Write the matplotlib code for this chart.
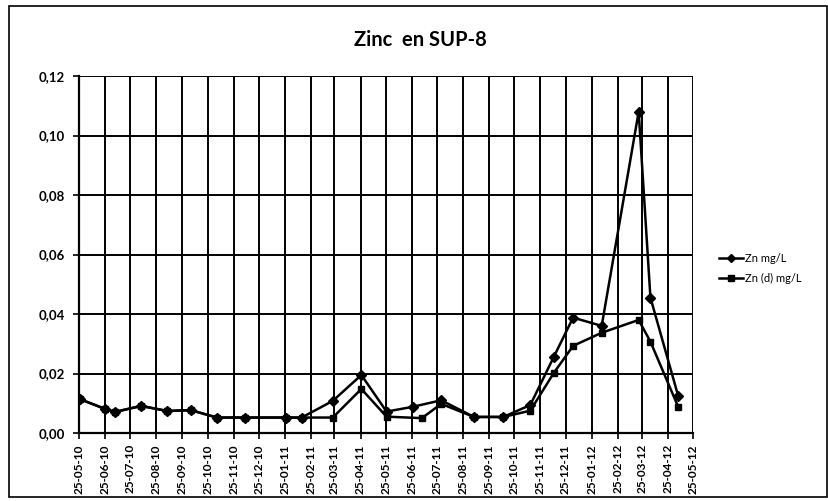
import matplotlib
matplotlib.use('Agg')
import matplotlib.pyplot as plt
import matplotlib.dates as mdates
from matplotlib.patches import Rectangle
from matplotlib.ticker import FuncFormatter, MultipleLocator
import pandas as pd

plt.rcParams['font.family'] = ['Lato', 'DejaVu Sans']

# Zn mg/L (total)
zn_dates = ['2010-05-26', '2010-06-25', '2010-07-07', '2010-08-07', '2010-09-07',
            '2010-10-05', '2010-11-05', '2010-12-08', '2011-01-26', '2011-02-14',
            '2011-03-23', '2011-04-26', '2011-05-26', '2011-06-26', '2011-07-30',
            '2011-09-07', '2011-10-12', '2011-11-13', '2011-12-11', '2012-01-03',
            '2012-02-06', '2012-03-21', '2012-04-04', '2012-05-07']
zn_vals = [0.0114, 0.0081, 0.0071, 0.0091, 0.0074,
           0.0077, 0.0052, 0.0052, 0.0052, 0.0052,
           0.0108, 0.0195, 0.0072, 0.0088, 0.0110,
           0.0054, 0.0054, 0.0094, 0.0256, 0.0388,
           0.0360, 0.1080, 0.0455, 0.0125]

# Zn (d) mg/L (dissous)
znd_dates = ['2010-05-26', '2010-06-25', '2010-07-07', '2010-08-07', '2010-09-07',
             '2010-10-05', '2010-11-05', '2010-12-08', '2011-01-26', '2011-02-14',
             '2011-03-23', '2011-04-26', '2011-05-26', '2011-07-07', '2011-07-30',
             '2011-09-07', '2011-10-12', '2011-11-13', '2011-12-11', '2012-01-03',
             '2012-02-06', '2012-03-21', '2012-04-04', '2012-05-07']
znd_vals = [0.0114, 0.0081, 0.0071, 0.0091, 0.0074,
            0.0077, 0.0052, 0.0052, 0.0052, 0.0052,
            0.0052, 0.0148, 0.0055, 0.0050, 0.0098,
            0.0054, 0.0054, 0.0075, 0.0202, 0.0293,
            0.0337, 0.0380, 0.0307, 0.0088]

x_start, x_end = '2010-05-25', '2012-05-25'

fig = plt.figure(figsize=(8.29, 5.01), dpi=100)
fig.patches.append(Rectangle((0.011, 0.008), 0.987, 0.98, transform=fig.transFigure,
                             fill=False, edgecolor='black', linewidth=1.2))

ax = fig.add_axes([0.0953, 0.1357, 0.741, 0.7126])

ax.plot(pd.to_datetime(zn_dates), zn_vals, color='black', linewidth=1.8,
        marker='D', markersize=5.5, label='Zn mg/L', zorder=4)
ax.plot(pd.to_datetime(znd_dates), znd_vals, color='black', linewidth=1.8,
        marker='s', markersize=5, label='Zn (d) mg/L', zorder=3)

ax.set_xlim(pd.Timestamp(x_start), pd.Timestamp(x_end))
ax.set_ylim(0, 0.12)

ax.xaxis.set_major_locator(mdates.MonthLocator(bymonthday=25))
ax.xaxis.set_major_formatter(mdates.DateFormatter('%d-%m-%y'))
ax.yaxis.set_major_locator(MultipleLocator(0.02))
ax.yaxis.set_major_formatter(FuncFormatter(lambda v, p: f'{v:.2f}'.replace('.', ',')))

ax.grid(True, color='black', linewidth=1.4)
ax.set_axisbelow(True)
for s in ['top', 'right']:
    ax.spines[s].set_visible(False)
ax.spines['left'].set_linewidth(1.6)
ax.spines['bottom'].set_linewidth(1.6)

ax.tick_params(axis='x', direction='out', length=4, width=1.2, pad=4)
ax.tick_params(axis='y', direction='out', length=4, width=1.2, pad=6)
for lbl in ax.get_xticklabels():
    lbl.set_rotation(90)
    lbl.set_fontsize(8.5)
    lbl.set_fontweight('bold')
for lbl in ax.get_yticklabels():
    lbl.set_fontsize(9.5)
    lbl.set_fontweight('bold')

fig.text(0.507, 0.92, 'Zinc  en SUP-8', ha='center', va='center',
         fontsize=14.5, fontweight='bold')

leg = ax.legend(loc='center left', bbox_to_anchor=(1.025, 0.46), frameon=False,
                fontsize=8, handlelength=2.2, handletextpad=0.15, labelspacing=0.8,
                markerscale=0.8)

fig.savefig('out.png', dpi=100, facecolor='white')
